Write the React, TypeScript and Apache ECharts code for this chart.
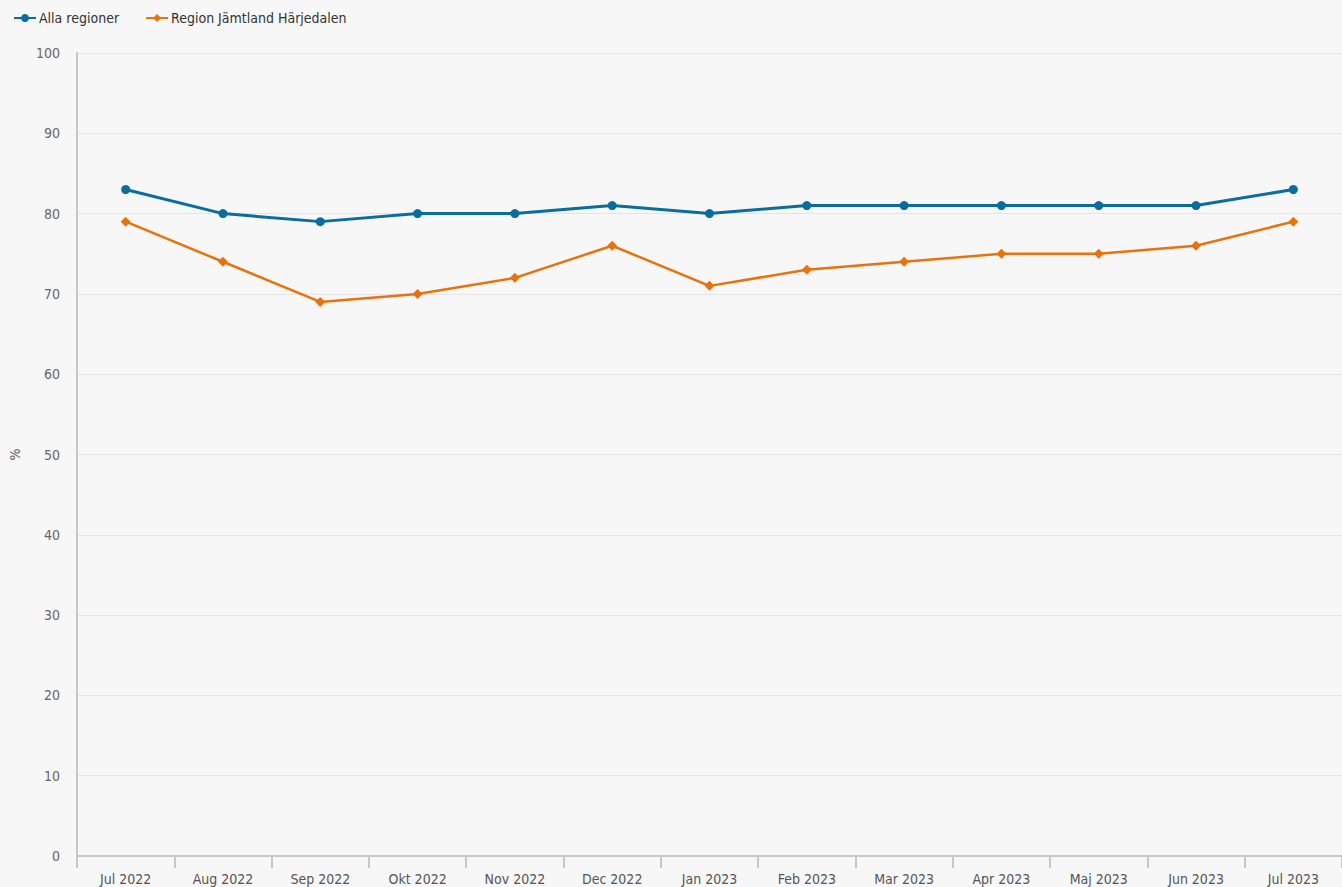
import React, { useEffect, useRef } from "react";
import * as echarts from "echarts";

const categories = [
  "Jul 2022", "Aug 2022", "Sep 2022", "Okt 2022", "Nov 2022", "Dec 2022",
  "Jan 2023", "Feb 2023", "Mar 2023", "Apr 2023", "Maj 2023", "Jun 2023", "Jul 2023",
];
const allaRegioner = [83, 80, 79, 80, 80, 81, 80, 81, 81, 81, 81, 81, 83];
const jamtland = [79, 74, 69, 70, 72, 76, 71, 73, 74, 75, 75, 76, 79];

const FONT = "'DejaVu Sans Condensed', 'Liberation Sans Narrow', 'DejaVu Sans', sans-serif";
const BLUE = "#0a6d9e";
const ORANGE = "#e8720c";

export default function App() {
  const ref = useRef<HTMLDivElement>(null);
  useEffect(() => {
    document.body.style.margin = "0";
    const chart = echarts.init(ref.current!, null, { renderer: "svg" });
    chart.setOption({
      animation: false,
      backgroundColor: "#f7f7f7",
      textStyle: { fontFamily: FONT },
      legend: {
        left: 8,
        top: 6,
        itemWidth: 22,
        itemHeight: 10,
        itemGap: 26,
        textStyle: { fontFamily: FONT, fontSize: 14, color: "#333", padding: [0, 0, 0, -2] },
        data: ["Alla regioner", "Region Jämtland Härjedalen"],
      },
      grid: { left: 75, top: 53, width: 1270, height: 803, containLabel: false },
      xAxis: {
        type: "category",
        data: categories,
        boundaryGap: true,
        axisLine: { lineStyle: { color: "#c8c8c8", width: 2 } },
        axisTick: { show: true, length: 12, lineStyle: { color: "#c8c8c8", width: 2 } },
        axisLabel: { fontFamily: FONT, fontSize: 14, color: "#555", margin: 16 },
      },
      yAxis: {
        type: "value",
        min: 0,
        max: 100,
        interval: 10,
        name: "%",
        nameLocation: "middle",
        nameGap: 55,
        nameTextStyle: { fontFamily: FONT, fontSize: 14, color: "#555" },
        axisLine: { show: true, lineStyle: { color: "#c8c8c8", width: 2 } },
        axisTick: { show: false },
        axisLabel: { fontFamily: FONT, fontSize: 14, color: "#666", margin: 17 },
        splitLine: { lineStyle: { color: "#e4e4e4", width: 1 } },
      },
      series: [
        {
          name: "Alla regioner",
          type: "line",
          data: allaRegioner,
          symbol: "circle",
          symbolSize: 9,
          itemStyle: { color: BLUE },
          lineStyle: { color: BLUE, width: 3 },
        },
        {
          name: "Region Jämtland Härjedalen",
          type: "line",
          data: jamtland,
          symbol: "diamond",
          symbolSize: 10,
          itemStyle: { color: ORANGE },
          lineStyle: { color: ORANGE, width: 2.5 },
        },
      ],
    });
    return () => chart.dispose();
  }, []);
  return <div ref={ref} style={{ width: 1342, height: 887 }} />;
}
